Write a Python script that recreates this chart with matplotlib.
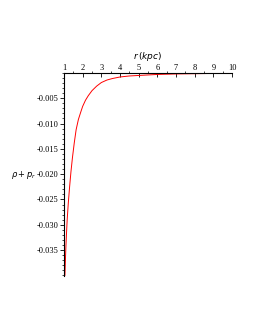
import matplotlib
matplotlib.use("Agg")
import matplotlib.pyplot as plt
from matplotlib.ticker import MultipleLocator, FormatStrFormatter

# values
r_kpc = [1.05, 1.08, 1.1, 1.13, 1.17, 1.23, 1.3, 1.37, 1.45, 1.55, 1.65, 1.77,
         1.9, 2.0, 2.15, 2.3, 2.5, 2.75, 3.0, 3.3, 3.6, 4.0, 4.5, 5.0, 6.0,
         7.0, 8.0, 9.0, 10.0]
rho_pr = [-0.0400, -0.0365, -0.0345, -0.0320, -0.0290, -0.0257, -0.0225,
          -0.0196, -0.0168, -0.0138, -0.0112, -0.0092, -0.0077, -0.0066,
          -0.0054, -0.0045, -0.0035, -0.0026, -0.0019, -0.0014, -0.0011,
          -0.0008, -0.0006, -0.0005, -0.0003, -0.0002, -0.00015, -0.0001,
          -0.00008]

x_ticks = [1, 2, 3, 4, 5, 6, 7, 8, 9, 10]
y_ticks = [-0.005, -0.010, -0.015, -0.020, -0.025, -0.030, -0.035]

plt.rcParams['font.family'] = ['Liberation Serif', 'DejaVu Serif']

fig = plt.figure(figsize=(2.55, 3.3), dpi=100)
ax = fig.add_axes([0.251, 0.164, 0.659, 0.615])
ax.plot(r_kpc, rho_pr, color='red', lw=0.7)

ax.set_xlim(1, 10)
ax.set_ylim(-0.0401, 0)

for s in ['bottom', 'right']:
    ax.spines[s].set_visible(False)
ax.spines['top'].set_linewidth(0.8)
ax.spines['left'].set_linewidth(0.8)

ax.xaxis.tick_top()
ax.set_xticks(x_ticks)
ax.xaxis.set_minor_locator(MultipleLocator(0.5))
ax.set_yticks(y_ticks)
ax.yaxis.set_major_formatter(FormatStrFormatter('%.3f'))
ax.yaxis.set_minor_locator(MultipleLocator(0.001))
ax.tick_params(which='major', length=3, width=0.6, labelsize=6, pad=1)
ax.tick_params(which='minor', length=1.5, width=0.5)
ax.tick_params(axis='x', direction='in')
ax.tick_params(axis='y', direction='out')

ax.set_xlabel(r'$r\,(kpc)$', fontsize=6.5, labelpad=3)
ax.xaxis.set_label_position('top')
fig.text(0.094, 0.47, r'$\rho + p_r$', fontsize=6, ha='center', va='center')

fig.savefig('out.png', dpi=100)
